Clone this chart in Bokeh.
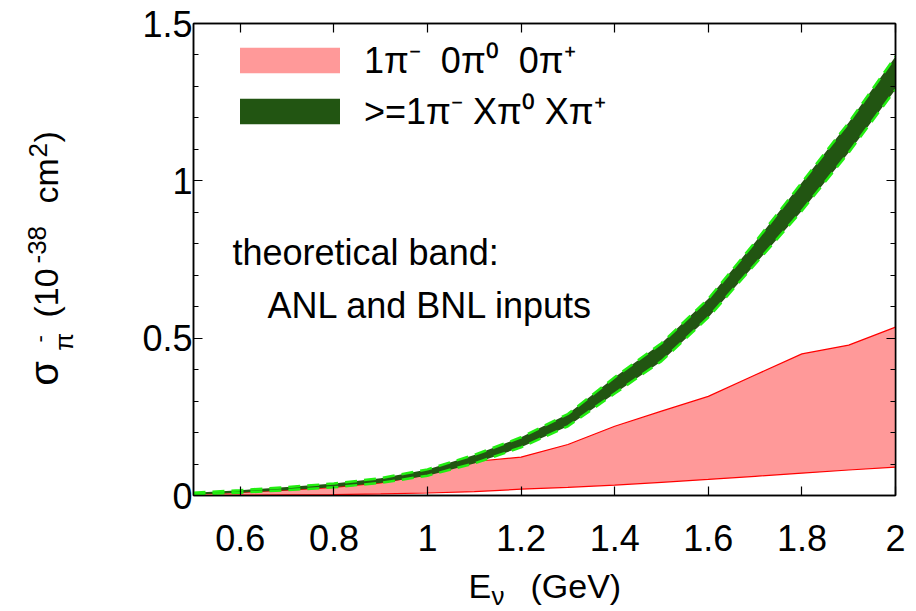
from bokeh.plotting import figure
from bokeh.layouts import row, column
from bokeh.models import (Range1d, LinearAxis, Label, Legend, LegendItem,
                          FixedTicker, NumeralTickFormatter, CustomJSTickFormatter)
from bokeh.embed import file_html
from bokeh.resources import INLINE

# ---------------- data ----------------
energy = [0.5, 0.6, 0.7, 0.8, 0.9, 1.0, 1.1, 1.2, 1.3, 1.4, 1.5, 1.6, 1.7, 1.8, 1.9, 2.0]

# 1pi- 0pi0 0pi+ band (red)
one_pi_lo = [0.000, 0.001, 0.002, 0.003, 0.005, 0.008, 0.012, 0.020, 0.026, 0.033,
             0.042, 0.051, 0.061, 0.071, 0.081, 0.090]
one_pi_hi = [0.004, 0.010, 0.017, 0.026, 0.040, 0.066, 0.108, 0.122, 0.162, 0.220,
             0.268, 0.315, 0.383, 0.450, 0.478, 0.535]

# >=1pi- Xpi0 Xpi+ band (green)
multi_pi_lo = [0.003, 0.009, 0.017, 0.026, 0.040, 0.063, 0.102, 0.153, 0.220, 0.324,
               0.427, 0.566, 0.735, 0.905, 1.090, 1.290]
multi_pi_hi = [0.009, 0.017, 0.027, 0.038, 0.055, 0.083, 0.129, 0.185, 0.259, 0.376,
               0.484, 0.625, 0.805, 0.995, 1.185, 1.395]

x_ticks = [0.6, 0.8, 1.0, 1.2, 1.4, 1.6, 1.8, 2.0]
y_ticks = [0.0, 0.5, 1.0, 1.5]
y_minor = [0.1, 0.2, 0.3, 0.4, 0.6, 0.7, 0.8, 0.9, 1.1, 1.2, 1.3, 1.4]

legend_labels = ["1π⁻  0π⁰  0π⁺", ">=1π⁻ Xπ⁰ Xπ⁺"]
note_lines = ["theoretical band:", "ANL and BNL inputs"]

# axis-title pieces: (text, font px, baseline shift px, start position px)
x_title = [("E", 34, 0, 468), ("ν", 26, 7, 491), ("(GeV)", 34, 0, 530)]
y_title = [("σ", 40, 0, 385), ("π", 26, 15, 349), ("-", 22, -11, 342),
           ("(10", 34, 0, 317), ("-38", 26, -12, 263), ("cm", 34, 0, 203),
           ("2", 26, -11, 157), (")", 34, 0, 142)]

# ---------------- layout ----------------
W, H = 916, 611
YW = 100          # width of the y-title strip
PH = 565          # height of the main plot canvas
L, R, T = 193, 21, 23
FRAME_BOTTOM = 495
X0, X1, Y0, Y1 = 0.5, 2.0, 0.0, 1.5
FONT = "Liberation Sans"
FS = 36
MID = 0.36        # distance baseline -> text middle, in em

p = figure(width=W - YW, height=PH, x_range=Range1d(X0, X1), y_range=Range1d(Y0, Y1),
           output_backend="svg", toolbar_location=None,
           min_border_left=L - YW, min_border_right=R, min_border_top=T,
           min_border_bottom=PH - FRAME_BOTTOM,
           x_axis_type=None, y_axis_type=None)
p.xgrid.visible = False
p.ygrid.visible = False
p.background_fill_color = "white"
p.border_fill_color = "white"
p.outline_line_color = "black"
p.outline_line_width = 1.5

fw = W - L - R
fh = FRAME_BOTTOM - T
sx = fw / (X1 - X0)
sy = fh / (Y1 - Y0)


def dx(px):  # page px -> data x
    return X0 + (px - L) / sx


def dy(py):  # page py (from top) -> data y
    return Y0 + (FRAME_BOTTOM - py) / sy


def style_axis(ax, labels=True):
    ax.axis_line_width = 1.5
    ax.axis_line_color = "black"
    ax.major_tick_in = 9
    ax.major_tick_out = 0
    ax.minor_tick_in = 5
    ax.minor_tick_out = 0
    ax.major_tick_line_width = 1.2
    ax.minor_tick_line_width = 1.2
    ax.major_label_text_font = FONT
    ax.major_label_text_font_size = f"{FS}px"
    ax.major_label_text_color = "black"
    if not labels:
        ax.formatter = CustomJSTickFormatter(code="return ''")


xb = LinearAxis(ticker=FixedTicker(ticks=x_ticks), formatter=NumeralTickFormatter(format="0.[0]"))
style_axis(xb)
xb.major_label_standoff = 29
p.add_layout(xb, "below")
xt = LinearAxis(ticker=FixedTicker(ticks=x_ticks))
style_axis(xt, labels=False)
p.add_layout(xt, "above")

yl = LinearAxis(ticker=FixedTicker(ticks=y_ticks, minor_ticks=y_minor),
                formatter=NumeralTickFormatter(format="0.[0]"))
style_axis(yl)
yl.major_label_standoff = 1
p.add_layout(yl, "left")
yr = LinearAxis(ticker=FixedTicker(ticks=y_ticks, minor_ticks=y_minor))
style_axis(yr, labels=False)
p.add_layout(yr, "right")

# ---------------- glyphs ----------------
red_fill = p.varea(x=energy, y1=one_pi_lo, y2=one_pi_hi, fill_color="#ff9999", fill_alpha=1.0)
p.line(energy, one_pi_lo, line_color="#ff0000", line_width=1.2)
p.line(energy, one_pi_hi, line_color="#ff0000", line_width=1.2)

green_fill = p.varea(x=energy, y1=multi_pi_lo, y2=multi_pi_hi, fill_color="#225512", fill_alpha=1.0)
p.line(energy, multi_pi_lo, line_color="#22ee11", line_width=2.5, line_dash="12 7")
p.line(energy, multi_pi_hi, line_color="#22ee11", line_width=2.5, line_dash="12 7")

legend = Legend(items=[LegendItem(label=legend_labels[0], renderers=[red_fill]),
                       LegendItem(label=legend_labels[1], renderers=[green_fill])],
                location=(34, 360), orientation="vertical",
                glyph_width=125, glyph_height=32, label_height=40, spacing=2,
                label_standoff=12, padding=0, margin=0,
                label_text_font=FONT, label_text_font_size=f"{FS}px",
                label_text_color="black",
                border_line_color=None, background_fill_alpha=0.0)
p.add_layout(legend, "center")

for txt, x0, base in [(note_lines[0], 232, 265), (note_lines[1], 267, 318)]:
    p.add_layout(Label(x=dx(x0), y=dy(base - MID * FS), text=txt, text_font=FONT,
                       text_font_size=f"{FS}px", text_color="black",
                       text_align="left", text_baseline="middle"))

WID = {" ": .278, "(": .333, ")": .333, "-": .333, ".": .278, "c": .5, "m": .833,
       "E": .667, "G": .778, "e": .556, "V": .667, "σ": .6, "π": .6, "ν": .5}


def tw(s, size):
    return sum(WID.get(ch, .556) for ch in s) * size


def strip(width, height, top=0, bottom=0):
    # data coordinates equal page pixels: x from the left, y = height - page_y
    f = figure(width=width, height=height, x_range=Range1d(0, width),
               y_range=Range1d(bottom, height - top), output_backend="svg",
               toolbar_location=None, min_border_left=0, min_border_right=0,
               min_border_top=top, min_border_bottom=bottom,
               x_axis_type=None, y_axis_type=None)
    f.xgrid.visible = False
    f.ygrid.visible = False
    f.outline_line_color = None
    f.background_fill_color = "white"
    f.border_fill_color = "white"
    return f


# y-title strip (page x 0..YW, page y 0..PH); frame aligned with the plot frame
ys = strip(YW, PH, top=T, bottom=PH - FRAME_BOTTOM)
Y_BASE = 58
for txt, size, shift, start in y_title:
    cx = Y_BASE + shift - MID * size
    cy = start - tw(txt, size) / 2
    ys.add_layout(Label(x=cx, y=PH - cy, text=txt, text_font=FONT,
                        text_font_size=f"{size}px", text_color="black",
                        angle=90, angle_units="deg",
                        text_align="center", text_baseline="middle"))

# x-title strip (page x 0..W, page y PH..H)
XH = H - PH
xs = strip(W, XH)
X_BASE = 598
for txt, size, shift, start in x_title:
    cx = start + tw(txt, size) / 2
    cy = X_BASE + shift - MID * size - PH
    xs.add_layout(Label(x=cx, y=XH - cy, text=txt, text_font=FONT,
                        text_font_size=f"{size}px", text_color="black",
                        text_align="center", text_baseline="middle"))

page = column(row(ys, p, spacing=0), xs, spacing=0)
open("out.html", "w").write(file_html(page, INLINE))
